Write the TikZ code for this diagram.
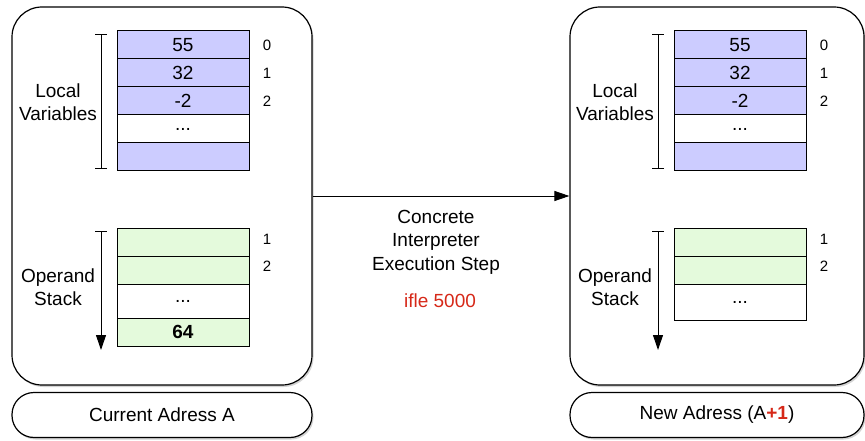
\documentclass[tikz,border=0pt]{standalone}
\usepackage{fontspec}
\setmainfont{Liberation Sans}
\usetikzlibrary{arrows.meta,shadows}
\definecolor{lvblue}{RGB}{204,204,255}
\definecolor{opgreen}{RGB}{228,250,220}
\definecolor{stepred}{RGB}{214,40,24}

\begin{document}
\begin{tikzpicture}[x=1pt, y=-1pt,
	frame/.style={draw, line width=1.2pt, rounded corners=30pt, fill=white,
		drop shadow={opacity=.35, shadow xshift=1.5pt, shadow yshift=-2pt},
		minimum width=300pt, minimum height=378pt, inner sep=0},
	adr/.style={draw, line width=1.2pt, rounded corners=22pt, fill=white,
		drop shadow={opacity=.35, shadow xshift=1.5pt, shadow yshift=-2pt},
		minimum width=300pt, minimum height=45pt, font=\fontsize{19}{23}\selectfont},
	cell/.style={draw, line width=1pt, minimum width=132pt, minimum height=28pt,
		inner sep=0, outer sep=0, font=\fontsize{19}{23}\selectfont},
	idx/.style={font=\fontsize{15}{18}\selectfont},
	lbl/.style={align=center, font=\fontsize{19}{23.5}\selectfont},
	bracket/.style={line width=1pt, {Bar[width=12pt]}-{Bar[width=12pt]}},
	stackarrow/.style={line width=1pt, {Bar[width=12pt]}-{Triangle[width=10pt,length=15pt]}}
	]
	\useasboundingbox (0,0) rectangle (865,441);

	% frames and addresses
	\node[frame] (curframe) at (162,196) {};
	\node[frame, minimum width=294pt] (newframe) at (717,196) {};
	\node[adr] (curadr) at (162,415) {Current Adress A};
	\node[adr, minimum width=294pt] (newadr) at (717,415) {New Adress (A{\color{stepred}\bfseries +1})};

	% local variables
	\foreach \x/\s in {183/A, 740/B} {
		\node[cell, fill=lvblue] (lv\s0) at (\x,45) {55};
		\node[cell, fill=lvblue] (lv\s1) at (\x,73) {32};
		\node[cell, fill=lvblue] (lv\s2) at (\x,101) {-2};
		\node[cell, fill=white] (lv\s3) at (\x,129) {...};
		\node[cell, fill=lvblue] (lv\s4) at (\x,157) {};
		\node[idx] (ix\s0) at (\x+84,45) {0};
		\node[idx] (ix\s1) at (\x+84,73) {1};
		\node[idx] (ix\s2) at (\x+84,101) {2};
		\node[idx] (oi\s1) at (\x+84,239) {1};
		\node[idx] (oi\s2) at (\x+84,266) {2};
		\node[lbl] (lvl\s) at (\x-125,102) {Local\\Variables};
		\node[lbl] (opl\s) at (\x-125,287) {Operand\\Stack};
		\draw[bracket] (\x-82,34) -- (\x-82,169);
		\draw[stackarrow] (\x-82,231) -- (\x-82,350);
	}

	% operand stacks
	\node[cell, fill=opgreen] (opA1) at (183,242) {};
	\node[cell, fill=opgreen] (opA2) at (183,270) {};
	\node[cell, fill=white, minimum height=34pt] (opA3) at (183,301) {...};
	\node[cell, fill=opgreen] (opA4) at (183,332) {\bfseries 64};
	\node[cell, fill=opgreen] (opB1) at (740,242) {};
	\node[cell, fill=opgreen] (opB2) at (740,270) {};
	\node[cell, fill=white, minimum height=36pt] (opB3) at (740,302) {...};

	% step
	\draw[line width=1pt, -{Triangle[width=10pt,length=15pt]}] (curframe.east) -- (newframe.west);
	\node[lbl] (step) at (436,242) {Concrete\\Interpreter\\Execution Step};
	\node[font=\fontsize{19}{23}\selectfont, text=stepred] (instr) at (440,301) {ifle 5000};
\end{tikzpicture}
\end{document}
